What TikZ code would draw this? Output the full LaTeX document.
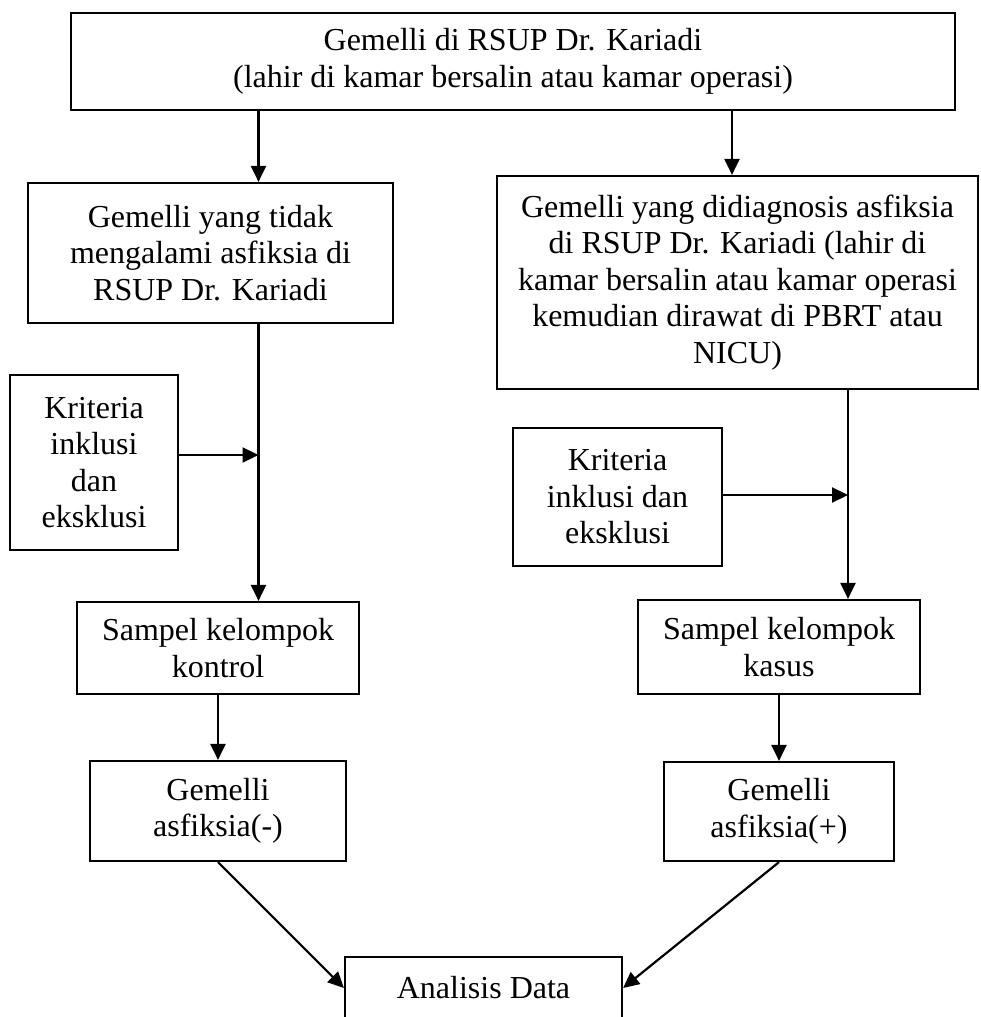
\documentclass[tikz,border=0pt]{standalone}
\usepackage{fontspec}
\setmainfont{Liberation Serif}
\usetikzlibrary{arrows.meta}
\tikzset{
  boxnode/.style={draw=black, line width=2.2pt, inner sep=0pt, align=center,
    font=\fontsize{32}{36.5}\selectfont, text=black},
  arr/.style={line width=2.2pt, -{Triangle[length=16pt,width=15pt]}}
}
\begin{document}
\begin{tikzpicture}[x=1pt,y=-1pt]
\useasboundingbox (0,0) rectangle (981,1017);
\clip (0,0) rectangle (981,1017);
\fill[white] (0,0) rectangle (981,1017);
% boxes
\node[boxnode, minimum width=884pt, minimum height=97pt] (top) at (513,61.5)
  {Gemelli di RSUP Dr. Kariadi\\(lahir di kamar bersalin atau kamar operasi)};
\node[boxnode, minimum width=365pt, minimum height=140pt] (lb) at (210.5,253)
  {Gemelli yang tidak\\mengalami asfiksia di\\RSUP Dr. Kariadi};
\node[boxnode, minimum width=481pt, minimum height=213pt] (rb) at (737.5,282.5)
  {Gemelli yang didiagnosis asfiksia\\di RSUP Dr. Kariadi (lahir di\\kamar bersalin atau kamar operasi\\kemudian dirawat di PBRT atau\\NICU)};
\node[boxnode, minimum width=168pt, minimum height=175pt] (lk) at (94,462.5)
  {Kriteria\\inklusi\\dan\\eksklusi};
\node[boxnode, minimum width=209pt, minimum height=138pt] (rk) at (617.5,497)
  {Kriteria\\inklusi dan\\eksklusi};
\node[boxnode, minimum width=282pt, minimum height=92pt] (ls) at (218,648)
  {Sampel kelompok\\kontrol};
\node[boxnode, minimum width=282pt, minimum height=94pt] (rs) at (779,647)
  {Sampel kelompok\\kasus};
\node[boxnode, minimum width=256pt, minimum height=100pt] (lg) at (218,811)
  {Gemelli\\asfiksia(-)};
\node[boxnode, minimum width=230pt, minimum height=99pt] (rg) at (779,811.5)
  {Gemelli\\asfiksia(+)};
\node[boxnode, minimum width=277pt, minimum height=62pt] (an) at (483.5,988)
  {Analisis Data};
% helper coordinates
\coordinate (xl) at (258.5,0);
\coordinate (xr) at (732,0);
\coordinate (xr2) at (848,0);
\coordinate (jl) at (258.5,455);
\coordinate (jr) at (848,495);
% connectors
\draw[arr] (top.south -| xl) -- (lb.north -| xl);
\draw[arr] (top.south -| xr) -- (rb.north -| xr);
\draw[arr] (lb.south -| xl) -- (ls.north -| xl);
\draw[arr] (lk.east |- jl) -- (jl);
\draw[arr] (rb.south -| xr2) -- (rs.north -| xr2);
\draw[arr] (rk.east |- jr) -- (jr);
\draw[arr] (ls.south) -- (lg.north);
\draw[arr] (rs.south) -- (rg.north);
\draw[arr] (lg.south) -- (an.west);
\draw[arr] (rg.south) -- (an.east);
\end{tikzpicture}
\end{document}
